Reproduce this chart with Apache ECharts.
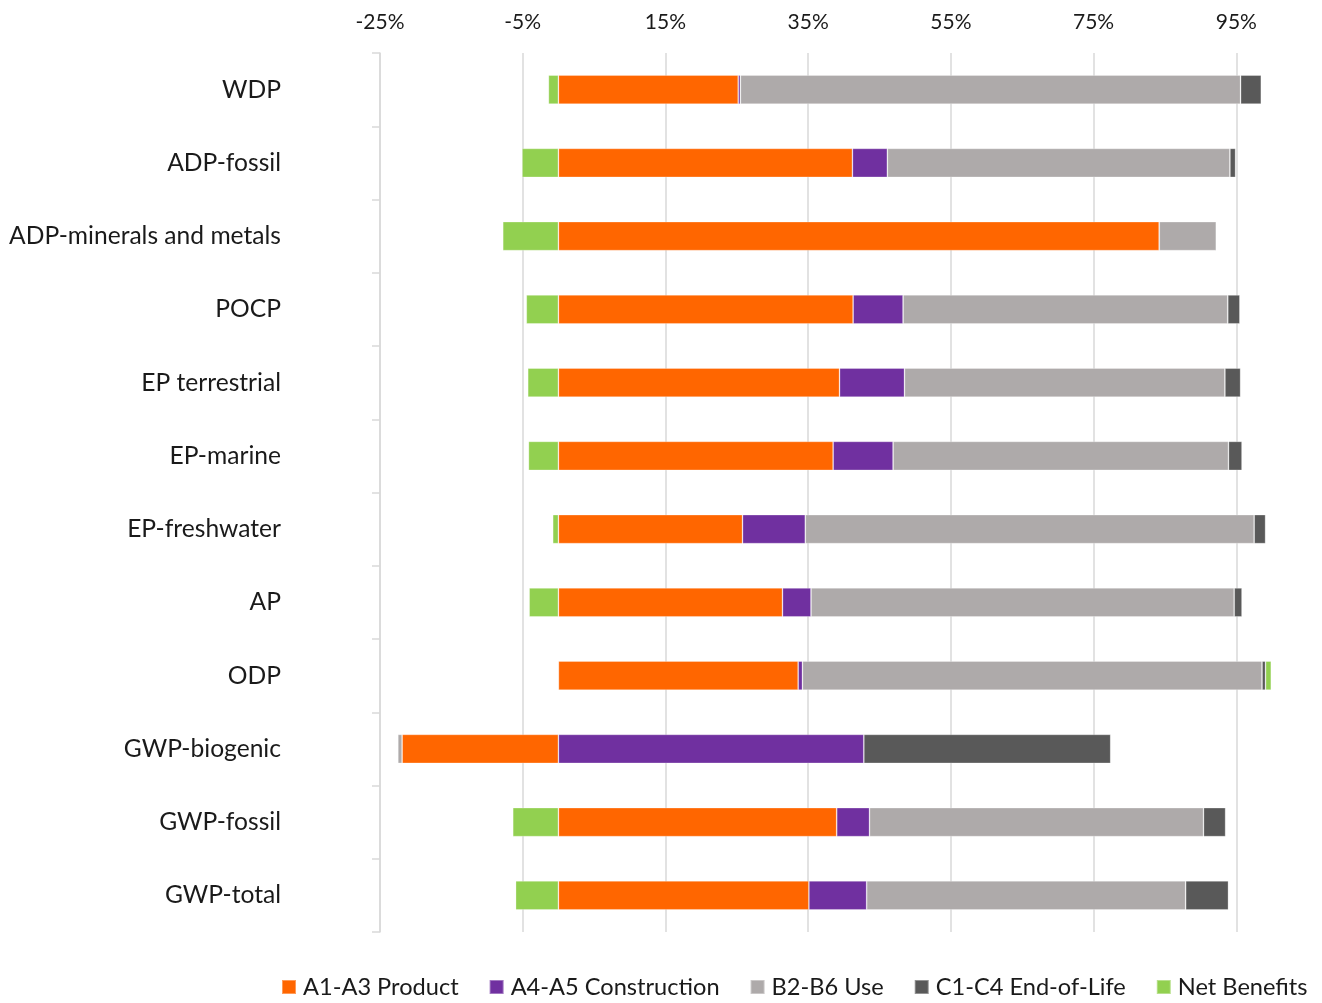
<!DOCTYPE html>
<html>
<head>
<meta charset="utf-8">
<script src="https://cdn.jsdelivr.net/npm/echarts@6/dist/echarts.min.js"></script>
<style>
  html, body { margin: 0; padding: 0; background: #ffffff; }
  #chart { width: 1322px; height: 1003px; }
</style>
</head>
<body>
<div id="chart"></div>
<script>
const categories = ['WDP', 'ADP-fossil', 'ADP-minerals and metals', 'POCP', 'EP terrestrial', 'EP-marine', 'EP-freshwater', 'AP', 'ODP', 'GWP-biogenic', 'GWP-fossil', 'GWP-total'];
const seriesNames = ['A1-A3 Product', 'A4-A5 Construction', 'B2-B6 Use', 'C1-C4 End-of-Life', 'Net Benefits'];
const a1a3Product = [25.2, 41.2, 84.2, 41.3, 39.4, 38.5, 25.8, 31.4, 33.6, -21.9, 39.0, 35.1];
const a4a5Construction = [0.3, 4.9, 0, 7.0, 9.1, 8.4, 8.8, 4.0, 0.6, 42.8, 4.6, 8.1];
const b2b6Use = [70.1, 48.0, 8.0, 45.5, 44.9, 47.0, 62.9, 59.3, 64.4, -0.6, 46.8, 44.7];
const c1c4EndOfLife = [2.9, 0.8, 0, 1.7, 2.2, 1.9, 1.6, 1.1, 0.5, 34.6, 3.1, 6.0];
const netBenefits = [-1.4, -5.1, -7.8, -4.5, -4.3, -4.2, -0.8, -4.1, 0.8, 0.1, -6.4, -6.0];
const colors = ['#FF6600', '#7030A0', '#AEAAAA', '#595959', '#92D050'];

const FONT = 'Lato';
const values = [a1a3Product, a4a5Construction, b2b6Use, c1c4EndOfLife, netBenefits];

const chart = echarts.init(document.getElementById('chart'), null, { renderer: 'canvas' });
chart.setOption({
  animation: false,
  backgroundColor: '#ffffff',
  textStyle: { fontFamily: FONT },
  grid: { left: 380, right: 50, top: 53, bottom: 71, containLabel: false, outerBoundsMode: 'none' },
  legend: {
    data: seriesNames,
    left: 281,
    top: 975,
    width: 1040,
    padding: 0,
    itemWidth: 14,
    itemHeight: 14,
    itemGap: 30,
    icon: 'rect',
    textStyle: { fontFamily: FONT, fontSize: 23.6, color: '#1a1a1a', padding: [0, 0, 0, 2] }
  },
  xAxis: {
    type: 'value',
    position: 'top',
    min: -25,
    max: 100,
    interval: 20,
    axisLine: { show: false },
    axisTick: { show: false },
    axisLabel: {
      showMaxLabel: false,
      margin: 20,
      fontFamily: FONT,
      fontSize: 21,
      color: '#1a1a1a',
      formatter: v => v + '%'
    },
    splitLine: {
      show: true,
      showMaxLine: false,
      lineStyle: { color: '#d9d9d9', width: 1.5 }
    }
  },
  yAxis: {
    type: 'category',
    data: categories,
    inverse: true,
    axisLine: { show: true, onZero: false, lineStyle: { color: '#d9d9d9', width: 1.5 } },
    axisTick: { show: true, length: 8, lineStyle: { color: '#d9d9d9', width: 1.5 } },
    axisLabel: { margin: 99, fontFamily: FONT, fontSize: 24.6, color: '#1a1a1a' }
  },
  series: seriesNames.map((name, i) => ({
    name,
    type: 'bar',
    stack: 'total',
    barWidth: 29,
    itemStyle: { color: colors[i], borderColor: 'rgba(255,255,255,0.35)', borderWidth: 0.8 },
    emphasis: { disabled: true },
    data: values[i]
  }))
});
</script>
</body>
</html>
